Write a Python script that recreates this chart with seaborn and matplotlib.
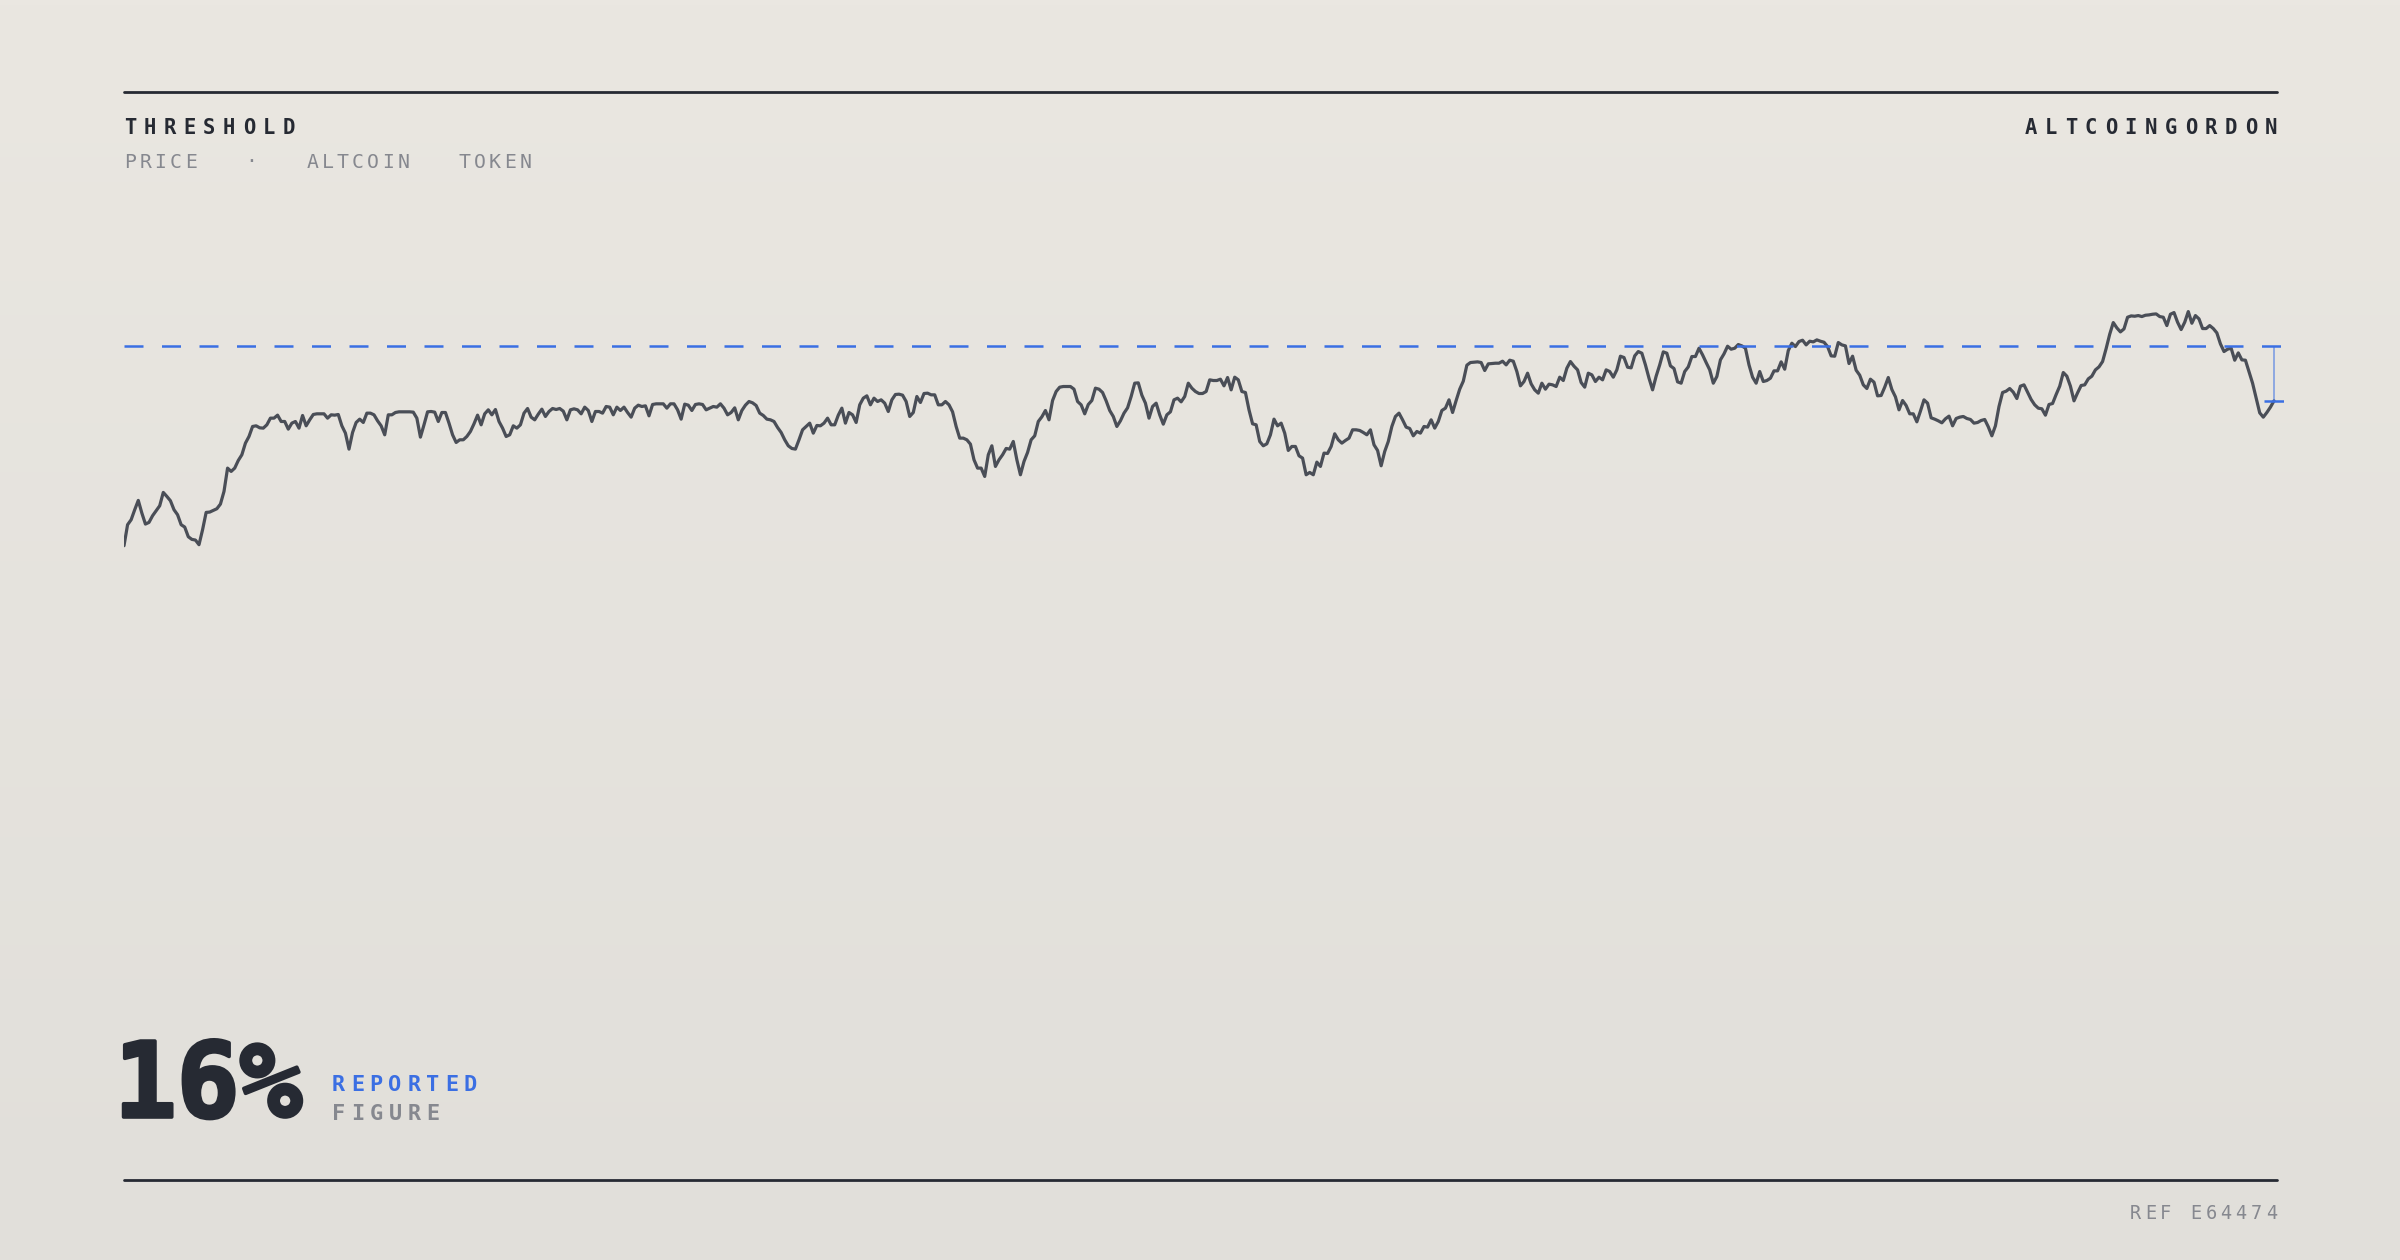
import numpy as np
import matplotlib
matplotlib.use("Agg")
import matplotlib.pyplot as plt
import matplotlib.patheffects as pe
from matplotlib.lines import Line2D
from matplotlib.colors import LinearSegmentedColormap
import seaborn as sns

# Daily closing price, in units of the threshold (threshold = 1.0)
price = [
    0.400, 0.463, 0.478, 0.508, 0.536, 0.498, 0.465, 0.470, 0.490, 0.505,
    0.520, 0.560, 0.548, 0.535, 0.508, 0.493, 0.463, 0.456, 0.427, 0.419,
    0.417, 0.403, 0.448, 0.500, 0.501, 0.506, 0.511, 0.525, 0.563, 0.633,
    0.623, 0.633, 0.656, 0.673, 0.708, 0.728, 0.758, 0.760, 0.754, 0.753,
    0.763, 0.783, 0.783, 0.792, 0.773, 0.773, 0.750, 0.768, 0.773, 0.753,
    0.791, 0.760, 0.778, 0.794, 0.796, 0.796, 0.796, 0.783, 0.793, 0.792,
    0.794, 0.760, 0.738, 0.690, 0.740, 0.770, 0.780, 0.770, 0.798, 0.798,
    0.793, 0.775, 0.760, 0.733, 0.793, 0.793, 0.800, 0.802, 0.802, 0.802,
    0.802, 0.801, 0.783, 0.726, 0.763, 0.802, 0.803, 0.801, 0.773, 0.800,
    0.800, 0.768, 0.733, 0.710, 0.718, 0.718, 0.728, 0.743, 0.766, 0.792,
    0.763, 0.796, 0.808, 0.793, 0.809, 0.773, 0.753, 0.728, 0.733, 0.760,
    0.753, 0.763, 0.798, 0.812, 0.786, 0.778, 0.795, 0.810, 0.788, 0.803,
    0.812, 0.809, 0.812, 0.804, 0.778, 0.808, 0.811, 0.808, 0.796, 0.816,
    0.806, 0.773, 0.803, 0.803, 0.798, 0.818, 0.816, 0.793, 0.816, 0.806,
    0.816, 0.800, 0.786, 0.813, 0.822, 0.818, 0.820, 0.790, 0.824, 0.826,
    0.826,
    0.826, 0.813, 0.826, 0.826, 0.808, 0.780, 0.825, 0.822, 0.806, 0.824,
    0.826, 0.824, 0.808, 0.813, 0.818, 0.816, 0.826, 0.813, 0.793, 0.800,
    0.814, 0.778, 0.806, 0.822, 0.833, 0.829, 0.821, 0.798, 0.791, 0.780,
    0.778, 0.773, 0.755, 0.740, 0.718, 0.700, 0.692, 0.690, 0.718, 0.748,
    0.758, 0.768, 0.738, 0.761, 0.760, 0.768, 0.783, 0.763, 0.763, 0.792,
    0.813, 0.768, 0.800, 0.793, 0.770, 0.823, 0.843, 0.850, 0.823, 0.843,
    0.833, 0.838, 0.828, 0.803, 0.838, 0.854, 0.855, 0.852, 0.833, 0.788,
    0.800, 0.848, 0.830, 0.857, 0.858, 0.853, 0.853, 0.823, 0.823, 0.833,
    0.823, 0.802, 0.758, 0.723, 0.723, 0.718, 0.705, 0.658, 0.633, 0.633,
    0.608, 0.673, 0.700, 0.638, 0.658, 0.673, 0.692, 0.690, 0.713, 0.658,
    0.613, 0.653, 0.680, 0.718, 0.730, 0.773, 0.787, 0.806, 0.778, 0.836,
    0.863, 0.876, 0.878, 0.878, 0.878, 0.870, 0.833, 0.823, 0.796, 0.824,
    0.836, 0.873, 0.870, 0.860, 0.835, 0.806, 0.788, 0.758, 0.775, 0.798,
    0.814, 0.848, 0.888, 0.889, 0.852, 0.828, 0.783, 0.818, 0.828, 0.793,
    0.765, 0.793, 0.802, 0.838, 0.843, 0.832, 0.848, 0.888, 0.873, 0.863,
    0.857, 0.857, 0.863, 0.898,
    0.896, 0.896, 0.900, 0.880, 0.905, 0.868, 0.906, 0.898, 0.863, 0.860,
    0.808, 0.766, 0.763, 0.713, 0.700, 0.706, 0.733, 0.780, 0.760, 0.768,
    0.738, 0.686, 0.698, 0.698, 0.670, 0.663, 0.613, 0.620, 0.613, 0.651,
    0.638, 0.678, 0.677, 0.698, 0.736, 0.718, 0.708, 0.716, 0.723, 0.748,
    0.748, 0.746, 0.740, 0.733, 0.748, 0.703, 0.686, 0.640, 0.683, 0.713,
    0.758, 0.788, 0.798, 0.778, 0.756, 0.752, 0.730, 0.743, 0.738, 0.758,
    0.756, 0.778, 0.753, 0.773, 0.806, 0.813, 0.838, 0.800, 0.836, 0.870,
    0.894, 0.942, 0.950, 0.951, 0.952, 0.950, 0.926, 0.946, 0.947, 0.948,
    0.948, 0.954, 0.943, 0.957, 0.954, 0.923, 0.880, 0.893, 0.918, 0.886,
    0.868, 0.858, 0.888, 0.870, 0.885, 0.883, 0.878, 0.906, 0.896, 0.933,
    0.953, 0.939, 0.928, 0.890, 0.876, 0.918, 0.913, 0.893, 0.906, 0.898,
    0.928, 0.923, 0.906, 0.928, 0.969, 0.965, 0.936, 0.934, 0.970, 0.983,
    0.978, 0.943, 0.903, 0.868, 0.909, 0.943, 0.982, 0.978, 0.940, 0.932,
    0.892, 0.888, 0.923, 0.937, 0.968, 0.968, 0.993, 0.973, 0.950, 0.928,
    0.888, 0.908, 0.958, 0.976, 0.999, 0.990, 0.993, 1.004, 1.000, 0.993,
    0.943, 0.906, 0.888, 0.923,
    0.893, 0.896, 0.903, 0.925, 0.925, 0.952, 0.930, 0.986, 1.008, 0.998,
    1.013, 1.017, 1.003, 1.014, 1.012, 1.018, 1.014, 1.011, 0.998, 0.970,
    0.969, 1.010, 1.003, 1.000, 0.947, 0.969, 0.927, 0.912, 0.883, 0.872,
    0.900, 0.891, 0.850, 0.851, 0.876, 0.905, 0.869, 0.847, 0.808, 0.836,
    0.821, 0.796, 0.796, 0.772, 0.804, 0.838, 0.828, 0.784, 0.780, 0.775,
    0.769, 0.781, 0.789, 0.760, 0.782, 0.786, 0.788, 0.782, 0.779, 0.768,
    0.770, 0.776, 0.779, 0.757, 0.730, 0.760, 0.818, 0.860, 0.864, 0.872,
    0.861, 0.842, 0.879, 0.883, 0.861, 0.839, 0.823, 0.813, 0.811, 0.792,
    0.824, 0.827, 0.854, 0.879, 0.920, 0.909, 0.879, 0.835, 0.859, 0.881,
    0.883, 0.901, 0.909, 0.928, 0.937, 0.953, 0.992, 1.035, 1.070, 1.054,
    1.042, 1.051, 1.086, 1.090, 1.089, 1.091, 1.088, 1.092, 1.093, 1.095,
    1.096, 1.088, 1.086, 1.061, 1.095, 1.100, 1.071, 1.049, 1.071, 1.103,
    1.068, 1.091, 1.081, 1.052, 1.052, 1.061, 1.052, 1.039, 1.006, 0.983,
    0.990, 0.993, 0.957, 0.979, 0.958, 0.957, 0.922, 0.888, 0.844, 0.799,
    0.786, 0.800, 0.816, 0.835,
]
threshold = 1.0

title = "THRESHOLD"
subtitle = "PRICE   ·   ALTCOIN   TOKEN"
brand = "ALTCOINGORDON"
ref_code = "REF E64474"
big_number = "16%"
label_top = "REPORTED"
label_bottom = "FIGURE"

DARK = "#262a33"
LINE = "#4a4e57"
BLUE = "#3b6fe3"
GREY = "#86888f"

W, H = 2400, 1260
sns.set_theme(style="white")
plt.rcParams["font.family"] = ["DejaVu Sans Mono", "DejaVu Sans"]

fig = plt.figure(figsize=(12, 6.3), dpi=200)

# soft vertical background gradient
bg = fig.add_axes([0, 0, 1, 1], zorder=-10)
grad = np.linspace(0, 1, 256).reshape(-1, 1)
cmap = LinearSegmentedColormap.from_list("bg", ["#eae7e1", "#e1dfda"])
bg.imshow(grad, aspect="auto", cmap=cmap, extent=[0, 1, 0, 1], origin="upper")
bg.axis("off")

# price chart
ax = fig.add_axes([124 / W, 1 - 1000 / H, (2284 - 124) / W, 800 / H])
ax.patch.set_alpha(0)
days = np.arange(len(price))
sns.lineplot(x=days, y=price, ax=ax, color=LINE, linewidth=1.15, estimator=None)
for ln in ax.lines:
    ln.set_solid_joinstyle("round")
ax.axhline(threshold, color=BLUE, lw=0.9, linestyle=(0, (7.6, 7.4)), zorder=3)
last = price[-1]
xe = days[-1]
ax.vlines(xe, last, threshold, color=BLUE, lw=0.6, alpha=0.6, zorder=3)
ax.hlines(last, xe - 2.8, xe + 2.8, color=BLUE, lw=0.9, zorder=3)
ax.set_xlim(0, xe + 2.8)
ax.set_ylim(-0.964, 1.438)
ax.axis("off")

# top and bottom rules
for y in (92, 1180):
    fig.add_artist(Line2D([124 / W, 2277 / W], [1 - y / H, 1 - y / H], color=DARK, lw=1.0))


def spaced(s, x, y, step, size, color, weight="normal", right=False):
    # letter-spaced text, x/y in pixels from top-left, y = baseline
    hw = 0.3 * size * 200 / 72
    n = len(s)
    for i, ch in enumerate(s):
        if right:
            cx = x - hw - (n - 1 - i) * step
        else:
            cx = x + hw + i * step
        fig.text(cx / W, 1 - y / H, ch, ha="center", va="baseline",
                 fontsize=size, color=color, fontweight=weight)


spaced(title, 124, 134, 19.8, 7.4, DARK, "bold")
spaced(subtitle, 124, 167.5, 15.2, 7.1, GREY)
spaced(brand, 2277, 134, 20.0, 7.4, DARK, "bold", right=True)
spaced(ref_code, 2277, 1219, 15.1, 6.7, GREY, right=True)

big = fig.text(114 / W, 1 - 1117 / H, big_number, ha="left", va="baseline",
               fontsize=37.5, fontweight="bold", color=DARK)
big.set_path_effects([pe.withStroke(linewidth=1.3, foreground=DARK)])
spaced(label_top, 332, 1091, 18.8, 7.9, BLUE, "bold")
spaced(label_bottom, 332, 1120.5, 18.8, 7.9, GREY, "bold")

fig.savefig("out.png", dpi=200)
